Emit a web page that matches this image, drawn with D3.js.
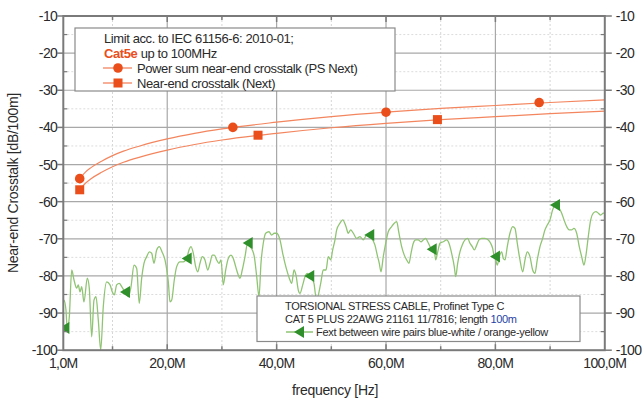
<!DOCTYPE html>
<html><head><meta charset="utf-8">
<script src="https://cdn.jsdelivr.net/npm/d3@7"></script>
<style>
html,body{margin:0;padding:0;background:#fff;}
svg{display:block;font-family:"Liberation Sans",Arial,sans-serif;}
</style></head>
<body><svg id="c" width="643" height="401"></svg>
<script>
// ---- data ----
const xTickValues = [1, 20, 40, 60, 80, 100];
const xTickLabels = ["1,0M", "20,0M", "40,0M", "60,0M", "80,0M", "100,0M"];
const yTickValues = [-10, -20, -30, -40, -50, -60, -70, -80, -90, -100];

const limitFreq = [4, 5, 6, 8, 10, 12, 15, 20, 25, 30, 40, 50, 60, 70, 80, 90, 100];
const psNextDb = [-53.8, -52.1, -50.9, -49.1, -47.6, -46.4, -45.0, -43.1, -41.6, -40.4, -38.6, -37.1, -35.9, -34.9, -34.1, -33.3, -32.6];
const nextDb   = [-56.8, -55.1, -53.9, -52.1, -50.6, -49.4, -48.0, -46.1, -44.6, -43.4, -41.6, -40.1, -38.9, -37.9, -37.1, -36.3, -35.6];
const psMarkerFreq = [4, 32, 60, 88];
const psMarkerDb = [-53.8, -40.0, -35.9, -33.3];
const nextMarkerFreq = [4, 36.6, 69.4];
const nextMarkerDb = [-56.8, -42.1, -37.9];

const fextFreq = [
 1.0, 1.13, 1.49, 1.73, 2.10, 2.54, 2.96, 3.45, 3.74, 4.05,
 4.36, 4.78, 5.39, 5.75, 6.19, 6.61, 6.98, 7.40, 7.84, 8.31,
 8.93, 9.54, 9.96, 10.32, 10.76, 11.24, 11.68, 12.28, 12.88, 13.38,
 13.93, 14.42, 14.89, 15.33, 15.75, 16.25, 16.72, 17.16, 17.58, 18.07,
 18.55, 19.04, 19.59, 20.01, 20.20, 20.51, 20.82, 21.29, 21.73, 22.33,
 22.94, 23.56, 23.98, 24.35, 24.77, 25.20, 25.57, 25.99, 26.41, 26.90,
 27.40, 27.82, 28.24, 28.61, 29.04, 29.46, 29.83, 30.25, 30.69, 31.16,
 31.66, 32.08, 32.52, 32.88, 33.30, 33.72, 34.22, 34.71, 35.13, 35.55,
 35.92, 36.36, 36.78, 37.14, 37.56, 38.00, 38.60, 39.10, 39.57, 40.01,
 40.62, 41.11, 41.53, 41.95, 42.32, 42.76, 43.18, 43.54, 43.96, 44.27,
 44.77, 45.19, 45.61, 45.97, 46.41, 46.83, 47.29, 48.06, 48.53, 49.03,
 49.45, 49.89, 50.25, 50.67, 50.98, 51.58, 52.08, 52.68, 53.10, 53.54,
 54.02, 54.64, 55.24, 55.84, 56.47, 56.94, 57.38, 57.98, 58.40, 58.77,
 59.08, 59.50, 59.94, 60.41, 61.04, 61.51, 61.95, 62.37, 62.86, 63.34,
 63.78, 64.20, 64.57, 64.99, 65.42, 65.90, 66.39, 66.81, 67.25, 67.62,
 68.35, 68.82, 69.08, 69.45, 69.87, 70.47, 71.09, 71.51, 72.00, 72.48,
 72.74, 73.10, 73.52, 73.94, 74.44, 74.93, 75.35, 75.77, 76.14, 76.58,
 76.99, 77.49, 78.09, 78.70, 79.13, 79.50, 79.74, 79.92, 80.34, 80.71,
 81.15, 81.44, 81.75, 82.17, 82.66, 83.16, 83.58, 84.00, 84.49, 84.99,
 85.41, 85.83, 86.32, 86.81, 87.23, 87.65, 88.15, 88.64, 89.06, 89.48,
 89.98, 90.47, 90.89, 91.31, 91.68, 92.12, 92.54, 93.03, 93.50, 93.94,
 94.36, 94.86, 95.33, 95.77, 96.19, 96.56, 96.98, 97.42, 97.89, 98.39,
 98.81, 99.25, 99.73, 100
];
const fextDb = [
 -87.5, -86.5, -89.2, -94.6, -91.0, -78.4, -81.1, -83.3, -82.4, -84.3,
 -82.9, -87.0, -80.6, -83.3, -96.4, -86.5, -85.6, -91.9, -99.9, -88.3,
 -81.6, -82.4, -84.3, -85.1, -82.4, -82.0, -82.9, -84.3, -85.6, -82.9,
 -77.1, -78.0, -87.4, -80.6, -76.6, -74.8, -73.5, -73.9, -76.6, -73.0,
 -72.1, -73.5, -75.7, -79.3, -81.6, -87.0, -86.5, -81.1, -77.5, -76.2,
 -76.2, -75.3, -73.0, -72.1, -73.9, -77.5, -78.9, -76.6, -74.8, -75.7,
 -78.4, -76.6, -74.4, -74.4, -75.7, -76.6, -75.7, -82.4, -78.4, -75.3,
 -74.4, -75.3, -77.5, -79.3, -80.6, -78.4, -74.8, -71.1, -72.1, -73.0,
 -74.8, -80.2, -85.6, -76.6, -71.2, -68.5, -68.1, -69.0, -68.5, -68.5,
 -70.3, -73.9, -76.6, -78.9, -80.6, -82.0, -78.4, -79.8, -83.8, -84.7,
 -82.4, -80.2, -79.3, -80.0, -80.6, -82.0, -86.5, -82.0, -78.4, -78.4,
 -74.8, -75.7, -73.0, -70.3, -67.6, -65.8, -64.9, -66.7, -68.5, -67.6,
 -68.5, -69.9, -69.4, -70.3, -69.0, -69.0, -69.9, -71.7, -74.4, -76.6,
 -78.9, -74.8, -71.2, -68.1, -66.7, -65.8, -65.4, -68.5, -72.1, -74.4,
 -75.7, -76.6, -73.9, -71.2, -70.3, -70.3, -70.8, -70.3, -69.9, -70.8,
 -72.8, -73.0, -75.7, -73.5, -71.2, -70.8, -70.3, -71.2, -73.9, -77.5,
 -80.2, -76.6, -73.5, -71.7, -70.3, -69.9, -71.2, -72.1, -73.0, -71.7,
 -70.3, -69.9, -69.9, -70.3, -71.2, -72.6, -74.4, -74.8, -77.1, -74.8,
 -73.5, -75.3, -75.7, -72.1, -68.5, -66.7, -67.2, -71.2, -75.7, -78.9,
 -75.7, -73.5, -74.8, -78.4, -79.3, -75.7, -72.1, -69.9, -67.6, -66.3,
 -64.9, -62.2, -60.9, -60.9, -61.8, -63.1, -64.9, -66.7, -67.6, -67.6,
 -67.2, -68.5, -72.1, -74.8, -77.1, -74.4, -69.4, -64.9, -63.1, -62.7,
 -63.1, -63.6, -63.1, -63.1
];
const fextMarkerFreq = [1.2, 12.28, 23.56, 34.71, 45.97, 56.94, 68.35, 79.92, 90.89];
const fextMarkerDb = [-94.0, -84.3, -75.3, -71.1, -80.0, -69.0, -72.8, -74.8, -60.9];

const legend1Lines = ["Limit acc. to IEC 61156-6: 2010-01;", "Cat5e", " up to 100MHz",
  "Power sum near-end crosstalk (PS Next)", "Near-end crosstalk (Next)"];
const legend2Lines = ["TORSIONAL STRESS CABLE, Profinet Type C",
  "CAT 5 PLUS 22AWG 21161 11/7816; length ", "100m",
  "Fext between wire pairs blue-white / orange-yellow"];

// ---- drawing ----
const svg = d3.select("#c");
const L = 63.3, R = 604.8, T = 16, B = 350.2;
const x = d3.scaleLinear().domain([1, 100]).range([L, R]);
const y = d3.scaleLinear().domain([-100, -10]).range([B, T]);
const orangeLine = "#f3865f", orangeMark = "#ea4e1b";
const greenLine = "#90c474", greenMark = "#2f8f2a";
const textCol = "#2a2a2a";

svg.append("defs").append("clipPath").attr("id", "pc")
  .append("rect").attr("x", L).attr("y", T).attr("width", R - L).attr("height", B - T);

// minor grid
const minorX = [10, 30, 50, 70, 90];
const majorX = [20, 40, 60, 80];
const minorY = d3.range(-95, -10, 10);
const majorY = d3.range(-90, -10, 10);
const g = svg.append("g");
g.selectAll(".mx").data(minorX).join("line")
  .attr("x1", d => x(d)).attr("x2", d => x(d)).attr("y1", T).attr("y2", B)
  .attr("stroke", "#d6d6d6").attr("stroke-dasharray", "2,2");
g.selectAll(".my").data(minorY).join("line")
  .attr("y1", d => y(d)).attr("y2", d => y(d)).attr("x1", L).attr("x2", R)
  .attr("stroke", "#dcdcdc").attr("stroke-dasharray", "2,2");
g.selectAll(".Mx").data(majorX).join("line")
  .attr("x1", d => x(d)).attr("x2", d => x(d)).attr("y1", T).attr("y2", B)
  .attr("stroke", "#a8a8a8").attr("stroke-width", 1.2);
g.selectAll(".My").data(majorY).join("line")
  .attr("y1", d => y(d)).attr("y2", d => y(d)).attr("x1", L).attr("x2", R)
  .attr("stroke", "#a8a8a8").attr("stroke-width", 1.2);

// curves
const plot = svg.append("g").attr("clip-path", "url(#pc)");
const line = d3.line().x(d => x(d[0])).y(d => y(d[1])).curve(d3.curveMonotoneX);
plot.append("path").datum(fextFreq.map((f, i) => [f, fextDb[i]]))
  .attr("d", line).attr("fill", "none").attr("stroke", greenLine).attr("stroke-width", 1.3);
plot.append("path").datum(limitFreq.map((f, i) => [f, psNextDb[i]]))
  .attr("d", line).attr("fill", "none").attr("stroke", orangeLine).attr("stroke-width", 1.2);
plot.append("path").datum(limitFreq.map((f, i) => [f, nextDb[i]]))
  .attr("d", line).attr("fill", "none").attr("stroke", orangeLine).attr("stroke-width", 1.2);

// markers
const tri = "M-5,0L5,-6L5,6Z";
plot.selectAll(".fm").data(fextMarkerFreq.map((f, i) => [f, fextMarkerDb[i]])).join("path")
  .attr("d", tri).attr("transform", d => `translate(${x(d[0])},${y(d[1])})`).attr("fill", greenMark);
plot.selectAll(".pm").data(psMarkerFreq.map((f, i) => [f, psMarkerDb[i]])).join("circle")
  .attr("cx", d => x(d[0])).attr("cy", d => y(d[1])).attr("r", 4.8).attr("fill", orangeMark);
plot.selectAll(".nm").data(nextMarkerFreq.map((f, i) => [f, nextMarkerDb[i]])).join("rect")
  .attr("x", d => x(d[0]) - 4.5).attr("y", d => y(d[1]) - 4.5).attr("width", 9).attr("height", 9)
  .attr("fill", orangeMark);

// ticks
const axisCol = "#7a7a7a";
const ticks = svg.append("g").attr("stroke", axisCol);
[...majorX, ...minorX].forEach(v => {
  const len = majorX.includes(v) ? 6 : 4;
  ticks.append("line").attr("x1", x(v)).attr("x2", x(v)).attr("y1", T).attr("y2", T + len).attr("stroke-width", 1.5);
  ticks.append("line").attr("x1", x(v)).attr("x2", x(v)).attr("y1", B).attr("y2", B - len).attr("stroke-width", 1.5);
});
yTickValues.forEach(v => {
  ticks.append("line").attr("x1", L - 6).attr("x2", L).attr("y1", y(v)).attr("y2", y(v)).attr("stroke-width", 1.5);
  ticks.append("line").attr("x1", R).attr("x2", R + 7).attr("y1", y(v)).attr("y2", y(v)).attr("stroke-width", 1.5);
});
minorY.forEach(v => {
  ticks.append("line").attr("x1", L).attr("x2", L + 4).attr("y1", y(v)).attr("y2", y(v)).attr("stroke-width", 1.2);
  ticks.append("line").attr("x1", R - 4).attr("x2", R).attr("y1", y(v)).attr("y2", y(v)).attr("stroke-width", 1.2);
});

// frame
svg.append("rect").attr("x", L).attr("y", T).attr("width", R - L).attr("height", B - T)
  .attr("fill", "none").attr("stroke", axisCol).attr("stroke-width", 2);

// tick labels
const lab = svg.append("g").attr("fill", textCol).attr("font-size", 14).attr("letter-spacing", -0.6);
lab.selectAll(".yl").data(yTickValues).join("text")
  .attr("x", L - 6).attr("y", d => y(d)).attr("dy", "0.36em").attr("text-anchor", "end").text(d => d);
lab.selectAll(".yr").data(yTickValues).join("text")
  .attr("x", R + 11).attr("y", d => y(d)).attr("dy", "0.36em").attr("text-anchor", "start").text(d => d);
lab.selectAll(".xl").data(xTickValues).join("text")
  .attr("x", d => x(d)).attr("y", 368).attr("text-anchor", "middle").text((d, i) => xTickLabels[i]);

// axis titles
svg.append("text").attr("x", 335).attr("y", 395).attr("text-anchor", "middle")
  .attr("font-size", 14).attr("fill", textCol).attr("letter-spacing", -0.3).text("frequency [Hz]");
svg.append("text").attr("transform", "translate(18,183) rotate(-90)").attr("text-anchor", "middle")
  .attr("font-size", 14).attr("fill", textCol).attr("letter-spacing", -0.3).text("Near-end Crosstalk [dB/100m]");

// legend 1
const l1 = svg.append("g");
l1.append("rect").attr("x", 75).attr("y", 28).attr("width", 320).attr("height", 63)
  .attr("fill", "#fff").attr("stroke", "#8a8a8a").attr("stroke-width", 1.2);
const t1 = l1.append("g").attr("font-size", 13).attr("fill", textCol).attr("letter-spacing", -0.4);
t1.append("text").attr("x", 104).attr("y", 43).text(legend1Lines[0]);
const cat = t1.append("text").attr("x", 104).attr("y", 57.5);
cat.append("tspan").attr("fill", orangeMark).attr("font-weight", "bold").text(legend1Lines[1]);
cat.append("tspan").text(legend1Lines[2]);
l1.append("line").attr("x1", 103).attr("x2", 132).attr("y1", 68).attr("y2", 68).attr("stroke", orangeLine).attr("stroke-width", 1.3);
l1.append("circle").attr("cx", 118).attr("cy", 68).attr("r", 4.8).attr("fill", orangeMark);
t1.append("text").attr("x", 137).attr("y", 72.5).text(legend1Lines[3]);
l1.append("line").attr("x1", 103).attr("x2", 132).attr("y1", 83).attr("y2", 83).attr("stroke", orangeLine).attr("stroke-width", 1.3);
l1.append("rect").attr("x", 113.5).attr("y", 78.5).attr("width", 9).attr("height", 9).attr("fill", orangeMark);
t1.append("text").attr("x", 137).attr("y", 87.5).text(legend1Lines[4]);

// legend 2
const l2 = svg.append("g");
l2.append("rect").attr("x", 257).attr("y", 296).attr("width", 323).attr("height", 45.5)
  .attr("fill", "#fff").attr("stroke", "#8a8a8a").attr("stroke-width", 1.2);
const t2 = l2.append("g").attr("font-size", 11).attr("fill", textCol).attr("letter-spacing", -0.3);
t2.append("text").attr("x", 285).attr("y", 310).text(legend2Lines[0]);
const c5 = t2.append("text").attr("x", 285).attr("y", 323);
c5.append("tspan").text(legend2Lines[1]);
c5.append("tspan").attr("fill", "#1f3fa6").text(legend2Lines[2]);
l2.append("line").attr("x1", 286).attr("x2", 313).attr("y1", 332).attr("y2", 332).attr("stroke", greenLine).attr("stroke-width", 1.5);
l2.append("path").attr("d", tri).attr("transform", "translate(299,332)").attr("fill", greenMark);
t2.append("text").attr("x", 316).attr("y", 336).text(legend2Lines[3]);
</script></body></html>
